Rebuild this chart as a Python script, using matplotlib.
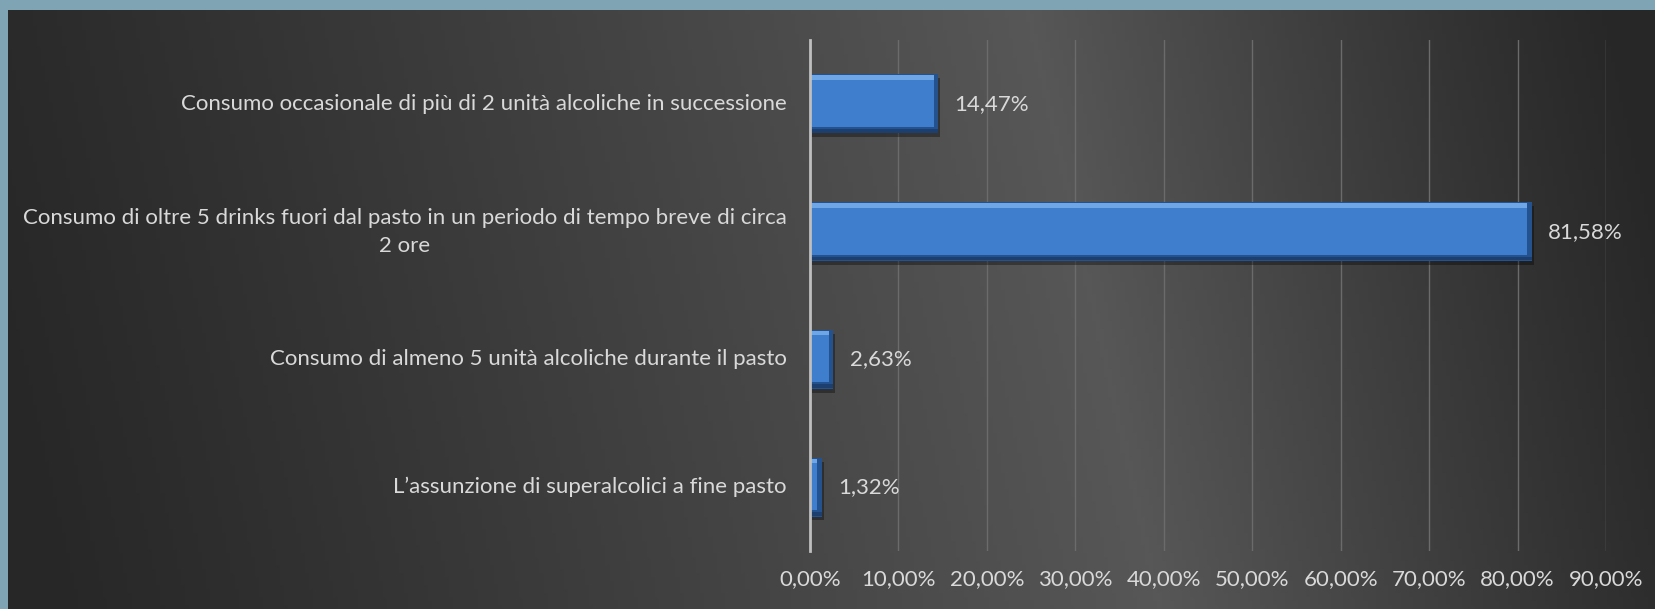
import numpy as np
import matplotlib
matplotlib.use('Agg')
import matplotlib.pyplot as plt
from matplotlib.ticker import FuncFormatter, MultipleLocator
from matplotlib.colors import LinearSegmentedColormap

# data (from bottom to top as drawn)
categories = ["L\u2019assunzione di superalcolici a fine pasto",
              "Consumo di almeno 5 unit\u00e0 alcoliche durante il pasto",
              "Consumo di oltre 5 drinks fuori dal pasto in un periodo di tempo breve di circa\n2 ore",
              "Consumo occasionale di pi\u00f9 di 2 unit\u00e0 alcoliche in successione"]
values = [0.0132, 0.0263, 0.8158, 0.1447]

plt.rcParams['font.family'] = ['Lato', 'DejaVu Sans']
txt_col = '#d9d9d9'
fs = 16

W, H = 1656, 609
fig = plt.figure(figsize=(W / 100, H / 100), dpi=100, facecolor='#7fa4b4')

# dark background with a broad lighter band (brightest a bit right of centre)
bg = fig.add_axes([8 / W, 0, 1 - 8 / W, 1 - 10 / H])
bg.set_axis_off()
xx, yy = np.meshgrid(np.linspace(0, 1, 400), np.linspace(0, 1, 150))
d = (xx - 0.66) + 0.08 * (yy - 0.5)
t = np.where(d < 0, 1 + d / 0.68, 1 - d / 0.36)
t = np.clip(t, 0, 1) ** 1.1
cmap = LinearSegmentedColormap.from_list('bgc', ['#272727', '#575757'])
bg.imshow(t, cmap=cmap, aspect='auto', extent=[0, 1, 0, 1], origin='lower')
bg.set_xlim(0, 1)
bg.set_ylim(0, 1)

ax = fig.add_axes([810 / W, 1 - 551 / H, (1606 - 810) / W, (551 - 40) / H])
ax.patch.set_alpha(0)
y = np.arange(len(categories))
h = 0.46

# shadow, bevel edge, face, highlight
bev = 0.005
vals = np.array(values)
ax.barh(y - 0.03, vals, height=h, left=0.0025, color='black', alpha=0.35, zorder=2)
ax.barh(y, vals, height=h, color='#23528f', zorder=3)
ax.barh(y + 0.015, vals - bev, height=h - 0.07, left=0, color='#3e7ecd', zorder=4)
ax.barh(y + h / 2 - 0.025, vals - bev, height=0.035, left=0, color='#6ea6e6', zorder=5)
ax.barh(y - h / 2 + 0.02, vals, height=0.03, left=0, color='#1d3f70', zorder=5)

for yi, v in zip(y, values):
    ax.annotate(f"{v * 100:.2f}%".replace('.', ','), (v, yi), xytext=(12, 0),
                textcoords='offset points', va='center', ha='left',
                color=txt_col, fontsize=fs)

ax.set_xlim(0, 0.9)
ax.set_ylim(-0.5, 3.5)
ax.xaxis.set_major_locator(MultipleLocator(0.1))
ax.xaxis.set_major_formatter(FuncFormatter(lambda v, p: f"{v * 100:.2f}%".replace('.', ',')))
ax.grid(axis='x', color='#6b6b6b', linewidth=1, zorder=0)
ax.set_axisbelow(True)
for s in ['top', 'right', 'bottom']:
    ax.spines[s].set_visible(False)
ax.spines['left'].set_color('#bfbfbf')
ax.spines['left'].set_linewidth(2)
ax.spines['left'].set_zorder(6)
ax.set_yticks(y)
ax.set_yticklabels(categories, multialignment='center', linespacing=1.5, va='center')
ax.tick_params(axis='y', length=0, pad=17, colors=txt_col, labelsize=fs)
ax.tick_params(axis='x', length=0, pad=13, colors=txt_col, labelsize=fs)

fig.savefig('out.png', dpi=100, facecolor=fig.get_facecolor())
